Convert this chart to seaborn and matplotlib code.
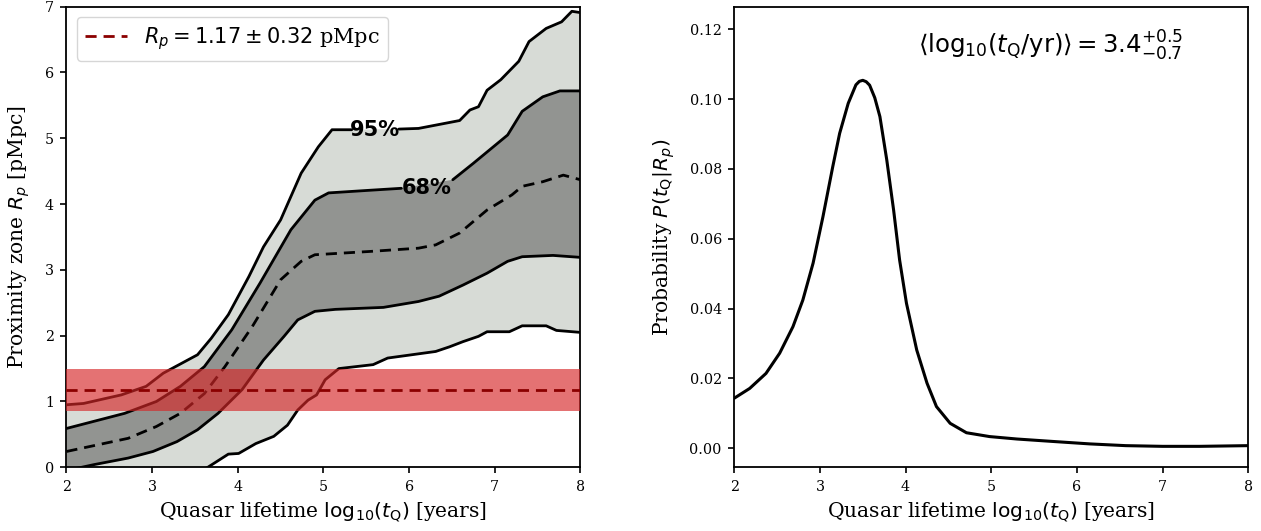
import numpy as np
import pandas as pd
import matplotlib
matplotlib.use('Agg')
import matplotlib.pyplot as plt
import seaborn as sns

# ---- values ----
# left panel: percentile curves of R_p vs log10(t_Q)
up95_x = [2.00, 2.20, 2.64, 2.93, 3.13, 3.53, 3.69, 3.89, 4.13, 4.30, 4.50, 4.74, 4.94, 5.10, 5.33,
          5.88, 6.11, 6.59, 6.71, 6.81, 6.91, 7.07, 7.28, 7.40, 7.60, 7.78, 7.90, 8.00]
up95_y = [0.95, 0.97, 1.10, 1.23, 1.43, 1.71, 1.96, 2.32, 2.90, 3.35, 3.76, 4.47, 4.87, 5.13, 5.13,
          5.14, 5.15, 5.27, 5.43, 5.48, 5.73, 5.89, 6.17, 6.47, 6.67, 6.77, 6.93, 6.91]

up68_x = [2.00, 2.68, 3.05, 3.33, 3.61, 3.93, 4.26, 4.62, 4.90, 5.06, 5.54, 5.91,
          6.51, 6.75, 7.15, 7.32, 7.56, 7.76, 8.00]
up68_y = [0.59, 0.82, 1.00, 1.23, 1.53, 2.09, 2.80, 3.61, 4.06, 4.17, 4.21, 4.24,
          4.37, 4.62, 5.05, 5.41, 5.63, 5.72, 5.72]

med_x = [2.00, 2.72, 3.05, 3.33, 3.61, 3.85, 4.17, 4.50, 4.74, 4.90, 5.54, 6.11, 6.31,
         6.59, 6.91, 7.20, 7.32, 7.56, 7.80, 8.00]
med_y = [0.24, 0.44, 0.62, 0.82, 1.12, 1.53, 2.14, 2.85, 3.13, 3.23, 3.28, 3.33, 3.38,
         3.56, 3.91, 4.14, 4.27, 4.34, 4.44, 4.37]

lo68_x = [2.00, 2.32, 2.72, 3.01, 3.29, 3.53, 3.77, 4.05, 4.30, 4.54, 4.70, 4.90, 5.14,
          5.70, 6.11, 6.35, 6.63, 6.91, 7.15, 7.32, 7.68, 8.00]
lo68_y = [-0.05, 0.04, 0.14, 0.24, 0.39, 0.57, 0.82, 1.18, 1.63, 1.99, 2.24, 2.37, 2.40,
          2.43, 2.52, 2.60, 2.77, 2.95, 3.13, 3.20, 3.22, 3.19]

lo95_x = [2.00, 3.00, 3.65, 3.89, 4.01, 4.21, 4.42, 4.58, 4.70, 4.82, 4.92, 5.02, 5.18,
          5.58, 5.75, 6.31, 6.47, 6.63, 6.81, 6.91, 7.17, 7.32, 7.60, 7.72, 8.00]
lo95_y = [-1.00, -0.45, 0.00, 0.20, 0.21, 0.36, 0.47, 0.64, 0.87, 1.02, 1.10, 1.33, 1.50,
          1.56, 1.66, 1.76, 1.83, 1.91, 1.99, 2.06, 2.06, 2.15, 2.15, 2.08, 2.05]

rp_mean = 1.17
rp_err = 0.32

# right panel: probability of t_Q given R_p
prob_x = [2.00, 2.18, 2.37, 2.53, 2.685, 2.80, 2.92, 3.035, 3.15, 3.23, 3.33, 3.42, 3.46,
          3.50, 3.54, 3.58, 3.64, 3.70, 3.78, 3.86, 3.93, 4.01, 4.13, 4.25, 4.36, 4.52,
          4.71, 4.98, 5.30, 5.72, 6.15, 6.57, 7.00, 7.43, 8.00]
prob_y = [0.0143, 0.0171, 0.0214, 0.0272, 0.0348, 0.0424, 0.0530, 0.0663, 0.0807, 0.0902,
          0.0988, 0.1041, 0.1051, 0.1054, 0.1050, 0.1040, 0.1004, 0.0950, 0.0826, 0.0682,
          0.0539, 0.0415, 0.0281, 0.0186, 0.0119, 0.0071, 0.0044, 0.0033, 0.0026, 0.0019,
          0.0012, 0.0007, 0.0005, 0.0005, 0.0007]

sns.set_theme(style='ticks')
plt.rcParams['font.family'] = ['DejaVu Serif']
plt.rcParams['mathtext.fontset'] = 'dejavusans'
plt.rcParams['text.color'] = 'black'
plt.rcParams['axes.labelcolor'] = 'black'
plt.rcParams['axes.edgecolor'] = 'black'
plt.rcParams['axes.linewidth'] = 1.3
plt.rcParams['xtick.color'] = 'black'
plt.rcParams['ytick.color'] = 'black'

fig = plt.figure(figsize=(12.61, 5.31), dpi=100)
ax1 = fig.add_axes([0.0527, 0.12, 0.4076, 0.8674])
ax2 = fig.add_axes([0.5823, 0.12, 0.4076, 0.8674])

light = '#d7dbd6'
dark = '#929491'

# filled bands
ax1.fill(np.r_[up95_x, lo95_x[::-1]], np.r_[up95_y, lo95_y[::-1]], color=light, lw=0, zorder=1)
ax1.fill(np.r_[up68_x, lo68_x[::-1]], np.r_[up68_y, lo68_y[::-1]], color=dark, lw=0, zorder=2)


def draw_contour(ax, xs, ys, gap=None):
    xs = np.asarray(xs)
    ys = np.asarray(ys)
    if gap is None:
        ax.plot(xs, ys, color='black', lw=2, zorder=3)
        return
    left = xs <= gap[0]
    right = xs >= gap[1]
    ax.plot(xs[left], ys[left], color='black', lw=2, zorder=3)
    ax.plot(xs[right], ys[right], color='black', lw=2, zorder=3)


draw_contour(ax1, up95_x, up95_y, gap=(5.34, 5.87))
draw_contour(ax1, up68_x, up68_y, gap=(5.92, 6.50))
draw_contour(ax1, lo68_x, lo68_y)
draw_contour(ax1, lo95_x, lo95_y)

med = pd.DataFrame({'x': med_x, 'y': med_y})
sns.lineplot(data=med, x='x', y='y', ax=ax1, color='black', lw=2, zorder=3,
             linestyle=(0, (4, 2.5)), sort=False)

ax1.text(5.605, 5.13, '95%', family='DejaVu Sans', fontsize=15, fontweight='bold',
         color='black', ha='center', va='center', zorder=4)
ax1.text(6.21, 4.24, '68%', family='DejaVu Sans', fontsize=15, fontweight='bold',
         color='black', ha='center', va='center', zorder=4)

# observed R_p
ax1.axhspan(rp_mean - rp_err, rp_mean + rp_err, color='#d62728', alpha=0.65, lw=0, zorder=5)
ax1.axhline(rp_mean, color='darkred', lw=2, ls=(0, (4, 2.5)), zorder=6,
            label=r'$R_p = 1.17 \pm 0.32$ pMpc')

xlab = r'Quasar lifetime $\mathrm{log}_{10}(t_{\rm Q})$ [years]'
ax1.set_xlim(2, 8)
ax1.set_ylim(0, 7)
ax1.set_xlabel(xlab, fontsize=14.6, labelpad=5)
ax1.set_ylabel(r'Proximity zone $R_p$ [pMpc]', fontsize=14.6, labelpad=9)
ax1.legend(loc='upper left', fontsize=15, handlelength=2.0, frameon=True,
           fancybox=True, framealpha=0.8, edgecolor='#cccccc')

# right panel
prob = pd.DataFrame({'x': prob_x, 'y': prob_y})
sns.lineplot(data=prob, x='x', y='y', ax=ax2, color='black', lw=2.2, sort=False,
             solid_joinstyle='round')
ax2.set_xlim(2, 8)
ax2.set_ylim(-0.0055, 0.1265)
ax2.set_yticks([0.0, 0.02, 0.04, 0.06, 0.08, 0.10, 0.12])
ax2.set_yticklabels(['0.00', '0.02', '0.04', '0.06', '0.08', '0.10', '0.12'])
ax2.set_xlabel(xlab, fontsize=14.6, labelpad=5)
ax2.set_ylabel(r'Probability $P(t_{\rm Q}|R_p)$', fontsize=14.6, labelpad=9)
ax2.text(0.615, 0.915, r'$\langle \mathrm{log}_{10}(t_{\rm Q}/{\rm yr})\rangle = 3.4^{+0.5}_{-0.7}$',
         transform=ax2.transAxes, fontsize=17.6, ha='center', va='center')

for ax in (ax1, ax2):
    ax.tick_params(labelsize=10.3, length=4, width=1.2, direction='out', pad=5)
    for s in ax.spines.values():
        s.set_visible(True)

fig.savefig('out.png', dpi=100)
